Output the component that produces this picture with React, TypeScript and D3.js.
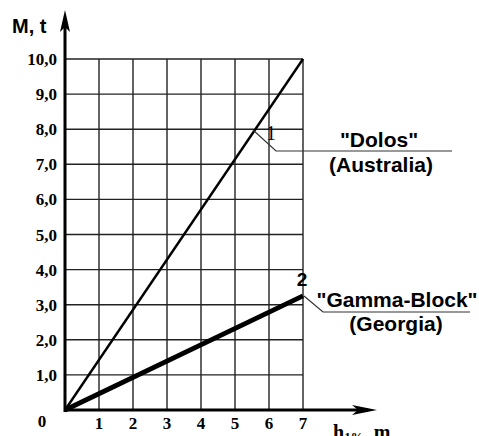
import React from "react";
import * as d3 from "d3";

const xTicks = [1, 2, 3, 4, 5, 6, 7];
const yTicks = [1, 2, 3, 4, 5, 6, 7, 8, 9, 10];
const yTickLabels = ["1,0", "2,0", "3,0", "4,0", "5,0", "6,0", "7,0", "8,0", "9,0", "10,0"];
const heightsH = [0, 7];
const dolosMass = [0, 10];
const gammaMass = [0, 3.25];

export default function App() {
  const x = d3.scaleLinear().domain([0, 7]).range([65, 303]);
  const y = d3.scaleLinear().domain([0, 10]).range([410, 59]);
  const line = d3
    .line<number>()
    .x((_, i) => x(heightsH[i]))
    .y((d) => y(d));
  const serif = "'Liberation Serif', 'DejaVu Serif', serif";
  const sans = "'Liberation Sans', Arial, sans-serif";
  return (
    <svg width={479} height={436} style={{ position: "absolute", left: 0, top: 0, background: "#fff" }}>
      {/* grid */}
      {xTicks.map((t) => (
        <line key={"gx" + t} x1={x(t)} x2={x(t)} y1={y(10)} y2={y(0)} stroke="#222" strokeWidth={1.4} />
      ))}
      {yTicks.map((t) => (
        <line key={"gy" + t} x1={x(0)} x2={x(7)} y1={y(t)} y2={y(t)} stroke="#222" strokeWidth={1.4} />
      ))}
      {/* axes */}
      <line x1={x(0)} x2={x(0)} y1={y(0) + 2} y2={20} stroke="#000" strokeWidth={3} />
      <path d={`M${x(0)},10 L${x(0) - 5},32 L${x(0)},27 L${x(0) + 5},32 Z`} fill="#000" />
      <line x1={x(0) - 1} x2={368} y1={y(0)} y2={y(0)} stroke="#000" strokeWidth={3} />
      <path d={`M377,${y(0)} L352,${y(0) - 5} L358,${y(0)} L352,${y(0) + 5} Z`} fill="#000" />
      {/* series */}
      <path d={line(dolosMass) || ""} fill="none" stroke="#000" strokeWidth={2.4} />
      <path d={line(gammaMass) || ""} fill="none" stroke="#000" strokeWidth={4.8} />
      {/* tick labels */}
      {yTicks.map((t, i) => (
        <text key={"ty" + t} x={57} y={y(t) + 6} textAnchor="end" fontFamily={serif} fontWeight="bold" fontSize={17}>
          {yTickLabels[i]}
        </text>
      ))}
      <text x={42} y={427} textAnchor="middle" fontFamily={serif} fontWeight="bold" fontSize={17}>0</text>
      {xTicks.map((t) => (
        <text key={"tx" + t} x={x(t)} y={429} textAnchor="middle" fontFamily={serif} fontWeight="bold" fontSize={17}>
          {t}
        </text>
      ))}
      {/* axis titles */}
      <text x={12} y={33} fontFamily={sans} fontWeight="bold" fontSize={20}>M, t</text>
      <text x={333} y={439} fontFamily={serif} fontWeight="bold" fontSize={20}>
        h<tspan fontSize={13} dy={2}>1%</tspan><tspan dy={-2}>, m</tspan>
      </text>
      {/* annotations */}
      <text x={271} y={140} textAnchor="middle" fontFamily={serif} fontSize={20}>1</text>
      <polyline points="253,130 276,151 452,151" fill="none" stroke="#333" strokeWidth={1.2} />
      <text x={379} y={147} textAnchor="middle" fontFamily={sans} fontWeight="bold" fontSize={21}>"Dolos"</text>
      <text x={381} y={172} textAnchor="middle" fontFamily={sans} fontWeight="bold" fontSize={21}>(Australia)</text>

      <text x={302} y={286} textAnchor="middle" fontFamily={sans} fontWeight="bold" fontSize={19}>2</text>
      <polyline points="304,296 323,312 470,312" fill="none" stroke="#333" strokeWidth={1.2} />
      <text x={397} y={307} textAnchor="middle" fontFamily={sans} fontWeight="bold" fontSize={21}>"Gamma-Block"</text>
      <text x={396} y={331} textAnchor="middle" fontFamily={sans} fontWeight="bold" fontSize={21}>(Georgia)</text>
    </svg>
  );
}
